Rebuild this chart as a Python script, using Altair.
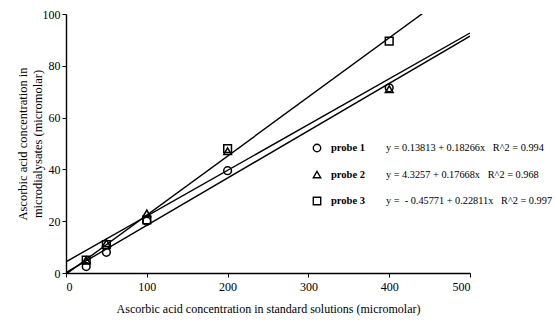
import altair as alt
import pandas as pd

# ---- data ----
conc_std = [25, 50, 100, 200, 400]
probe1 = [2.5, 8.0, 20.0, 39.5, 71.5]
probe2 = [5.0, 11.5, 23.0, 47.0, 71.0]
probe3 = [5.0, 11.0, 20.5, 48.0, 89.5]
probes = ["probe 1", "probe 2", "probe 3"]
intercepts = [0.13813, 4.3257, -0.45771]
slopes = [0.18266, 0.17668, 0.22811]
NB = "\u00a0"
equations = [
    "y = 0.13813 + 0.18266x" + NB * 3 + "R^2 = 0.994",
    "y = 4.3257 + 0.17668x" + NB * 3 + "R^2 = 0.968",
    "y =" + NB * 2 + "- 0.45771 + 0.22811x" + NB * 3 + "R^2 = 0.997",
]
line_x = [0, 500]
x_ticks = [0, 100, 200, 300, 400, 500]
y_ticks = [0, 20, 40, 60, 80, 100]

FONT = "Liberation Serif"

rows = []
for name, vals in zip(probes, [probe1, probe2, probe3]):
    for x, y in zip(conc_std, vals):
        rows.append({"probe": name, "x": x, "y": y})
pts = pd.DataFrame(rows)

lrows = []
for name, a, b in zip(probes, intercepts, slopes):
    for x in line_x:
        lrows.append({"probe": name, "x": x, "a": a, "b": b})
lines_df = pd.DataFrame(lrows)

shape_scale = alt.Scale(domain=probes, range=["circle", "triangle-up", "square"])

xs = alt.Scale(domain=[0, 500], nice=False)
ys = alt.Scale(domain=[0, 100], nice=False)

x_axis = alt.Axis(values=x_ticks, title="Ascorbic acid concentration in standard solutions (micromolar)",
                  grid=False, labelFont=FONT, labelFontSize=12, titleFont=FONT, titleFontSize=12,
                  titleFontWeight="normal", domainColor="black", tickColor="black", labelColor="black",
                  titleColor="black", tickSize=4, labelPadding=4, titlePadding=11, domainWidth=1.4)
y_axis = alt.Axis(values=y_ticks, title=["Ascorbic acid concentration in", "microdialysates (micromolar)"],
                  grid=False, labelFont=FONT, labelFontSize=12, titleFont=FONT, titleFontSize=12.5,
                  titleFontWeight="normal", domainColor="black", tickColor="black", labelColor="black",
                  titleColor="black", tickSize=4, labelPadding=2, titlePadding=-2, domainWidth=1.4)

lines = alt.Chart(lines_df).transform_calculate(
    yv="datum.a + datum.b * datum.x"
).mark_line(color="black", strokeWidth=1.4, clip=True).encode(
    x=alt.X("x:Q", scale=xs, axis=x_axis),
    y=alt.Y("yv:Q", scale=ys, axis=y_axis),
    detail="probe:N",
)

points = alt.Chart(pts).mark_point(filled=False, color="black", size=60, strokeWidth=1.5, opacity=1).encode(
    x=alt.X("x:Q", scale=xs),
    y=alt.Y("y:Q", scale=ys),
    shape=alt.Shape("probe:N", scale=shape_scale, legend=None),
)

legend_layers = []
for i, (name, eq) in enumerate(zip(probes, equations)):
    ypix = 134 + i * 26.5
    ldf = pd.DataFrame({"probe": [name], "eq": [eq]})
    legend_layers.append(
        alt.Chart(ldf).mark_point(filled=False, color="black", size=55, strokeWidth=1.4, opacity=1).encode(
            x=alt.value(251), y=alt.value(ypix),
            shape=alt.Shape("probe:N", scale=shape_scale, legend=None))
    )
    legend_layers.append(
        alt.Chart(ldf).mark_text(font=FONT, fontSize=10.5, fontWeight="bold", align="left",
                                 baseline="middle", color="black").encode(
            x=alt.value(265), y=alt.value(ypix), text="probe:N")
    )
    legend_layers.append(
        alt.Chart(ldf).mark_text(font=FONT, fontSize=10.3, align="left",
                                 baseline="middle", color="black").encode(
            x=alt.value(320), y=alt.value(ypix), text="eq:N")
    )

chart = alt.layer(lines, points, *legend_layers).properties(
    width=404, height=259,
    autosize=alt.AutoSizeParams(type="none"),
    padding={"left": 66, "top": 14, "right": 86, "bottom": 53},
    background="white",
).configure_view(stroke=None)

chart.save("out.html", embed_options={"renderer": "svg", "actions": False})
